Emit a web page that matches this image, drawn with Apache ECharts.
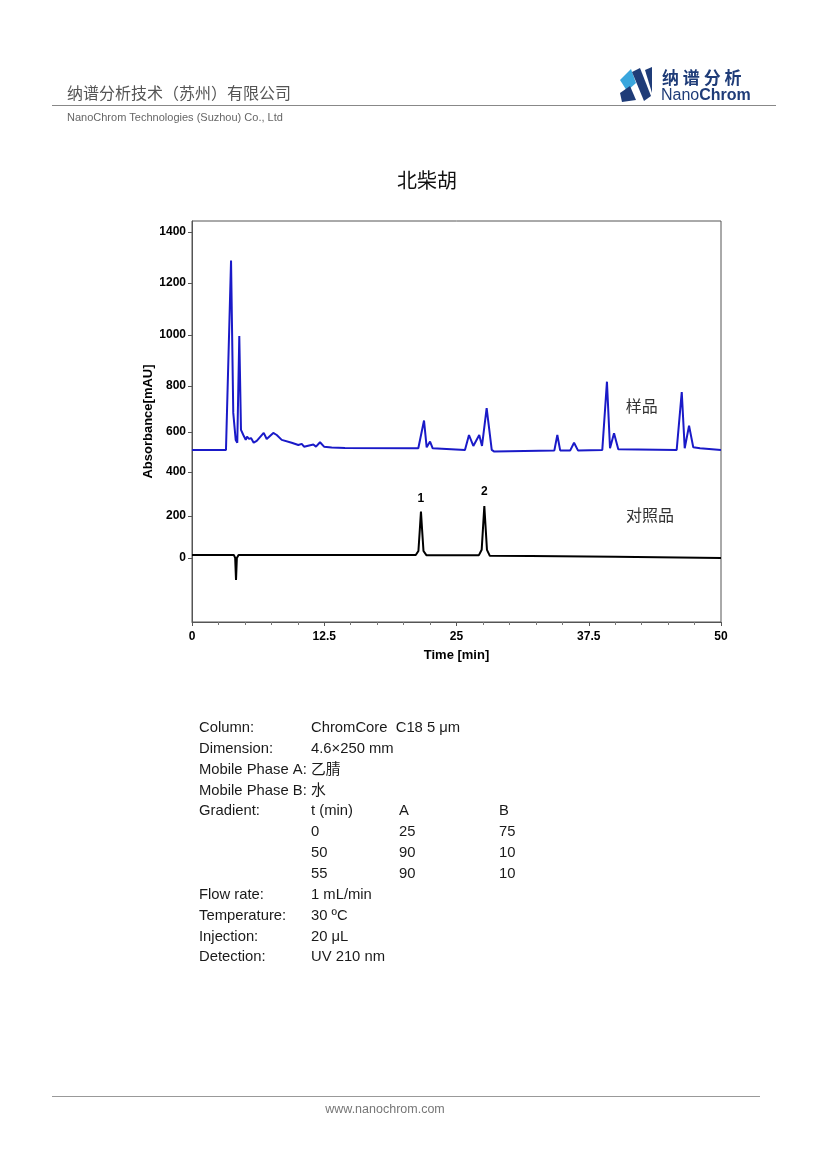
<!DOCTYPE html>
<html>
<head>
<meta charset="utf-8">
<script src="https://cdn.jsdelivr.net/npm/echarts@6/dist/echarts.min.js"></script>
<style>
html,body{margin:0;padding:0;background:#fff;}
#main{width:826px;height:1169px;}
</style>
</head>
<body>
<div id="main"></div>
<script>
// ---- data ----
const sampleTime = [0, 3.21, 3.69, 3.90, 4.13, 4.28, 4.47, 4.63, 4.85, 5.08, 5.20, 5.39, 5.58, 5.83, 6.12, 6.78, 7.06, 7.68, 8.01, 8.48, 9.42, 10.05, 10.37, 10.59, 11.47, 11.72, 12.10, 12.48, 13.20, 14.46, 21.39, 21.93, 22.18, 22.50, 22.75, 25.80, 26.18, 26.59, 27.15, 27.41, 27.85, 28.33, 28.57, 34.25, 34.53, 34.80, 35.75, 36.11, 36.48, 38.78, 39.22, 39.51, 39.89, 40.29, 45.81, 46.29, 46.57, 46.98, 47.38, 48.02, 50];
const sampleAbs  = [464, 464, 1277, 623, 507, 495, 953, 550, 528, 507, 521, 511, 515, 495, 503, 537, 511, 537, 528, 507, 495, 485, 490, 478, 487, 478, 497, 478, 474, 472, 471, 590, 475, 500, 471, 464, 528, 481, 528, 481, 643, 464, 457, 462, 528, 462, 462, 495, 462, 464, 757, 471, 536, 467, 464, 712, 471, 568, 475, 471, 464];

const refTime = [0, 3.95, 4.08, 4.16, 4.24, 4.40, 21.15, 21.40, 21.53, 21.64, 21.75, 21.88, 22.15, 27.12, 27.38, 27.52, 27.63, 27.74, 27.88, 28.15, 32, 40, 50];
const refAbs  = [13, 13, 0, -95, 0, 13, 13, 30, 120, 199, 120, 30, 12, 12, 35, 140, 223, 140, 35, 9, 8, 5, 0];

const peakNames = ['1', '2'];
const peakIndex = [9, 16];

const xTicks = [0, 12.5, 25, 37.5, 50];
const yTickLabels = ['1400', '1200', '1000', '800', '600', '400', '200', '0'];
const yTickValues = [1400, 1181, 958, 739, 541, 369, 180, 0];

const seriesNames = ['样品', '对照品'];

const tableLabels = ['Column:', 'Dimension:', 'Mobile Phase A:', 'Mobile Phase B:', 'Gradient:', '', '', '', 'Flow rate:', 'Temperature:', 'Injection:', 'Detection:'];
const tableValues = ['ChromCore  C18 5 μm', '4.6×250 mm', '乙腈', '水', 't (min)', '0', '50', '55', '1 mL/min', '30 ºC', '20 μL', 'UV 210 nm'];
const gradientA = ['', '', '', '', 'A', '25', '90', '90', '', '', '', ''];
const gradientB = ['', '', '', '', 'B', '75', '10', '10', '', '', '', ''];

// ---- build ----
const sampleData = sampleTime.map((t, i) => [t, sampleAbs[i]]);
const refData = refTime.map((t, i) => [t, refAbs[i]]);

const FONT = '"Liberation Sans", Arial, "Noto Sans CJK SC", sans-serif';
const CJK = '"Noto Sans CJK SC", sans-serif';

const graphics = [];
// header
graphics.push({type:'text', x:67, y:93, style:{text:'纳谱分析技术（苏州）有限公司', font:'16px ' + CJK, fill:'#555', textVerticalAlign:'middle'}});
graphics.push({type:'line', shape:{x1:52, y1:105.5, x2:776, y2:105.5}, style:{stroke:'#888', lineWidth:1}});
graphics.push({type:'text', x:67, y:118, style:{text:'NanoChrom Technologies (Suzhou) Co., Ltd', font:'11px ' + FONT, fill:'#666', textVerticalAlign:'middle'}});
// logo
graphics.push({type:'polygon', shape:{points:[[620,80],[631,69],[636,83],[627,91]]}, style:{fill:'#3aa6dd'}});
graphics.push({type:'polygon', shape:{points:[[632,72],[640,68],[651,96],[644,101]]}, style:{fill:'#1f3c78'}});
graphics.push({type:'polygon', shape:{points:[[645,70],[652,67],[652,93]]}, style:{fill:'#1f3c78'}});
graphics.push({type:'polygon', shape:{points:[[620,93],[630,86],[636,100],[622,102]]}, style:{fill:'#1f3c78'}});
graphics.push({type:'text', x:662, y:78, style:{text:'纳 谱 分 析', font:'bold 17px ' + CJK, fill:'#1f3c78', textVerticalAlign:'middle'}});
graphics.push({type:'text', x:661, y:96, style:{text:'{a|Nano}{b|Chrom}', rich:{a:{font:'16px ' + FONT, fill:'#1f3c78'}, b:{font:'bold 16px ' + FONT, fill:'#1f3c78'}}, textVerticalAlign:'middle'}});
// title
graphics.push({type:'text', x:427, y:180, style:{text:'北柴胡', font:'20px ' + CJK, fill:'#111', textAlign:'center', textVerticalAlign:'middle'}});
// table
const rowY0 = 728, rowH = 20.85;
const TF = '14.8px ' + FONT;
tableLabels.forEach((lab, i) => {
  const y = rowY0 + i * rowH;
  if (lab) graphics.push({type:'text', x:199, y:y, style:{text:lab, font:TF, fill:'#1a1a1a', textVerticalAlign:'middle'}});
  if (tableValues[i]) graphics.push({type:'text', x:311, y:y, style:{text:tableValues[i], font:TF, fill:'#1a1a1a', textVerticalAlign:'middle'}});
  if (gradientA[i]) graphics.push({type:'text', x:399, y:y, style:{text:gradientA[i], font:TF, fill:'#1a1a1a', textVerticalAlign:'middle'}});
  if (gradientB[i]) graphics.push({type:'text', x:499, y:y, style:{text:gradientB[i], font:TF, fill:'#1a1a1a', textVerticalAlign:'middle'}});
});
// footer
graphics.push({type:'line', shape:{x1:52, y1:1096.5, x2:760, y2:1096.5}, style:{stroke:'#999', lineWidth:1}});
graphics.push({type:'text', x:385, y:1110, style:{text:'www.nanochrom.com', font:'12.5px ' + FONT, fill:'#777', textAlign:'center', textVerticalAlign:'middle'}});

const chart = echarts.init(document.getElementById('main'), null, {renderer:'canvas'});
const option = {
  animation: false,
  backgroundColor: '#fff',
  grid: {left:192, top:221, width:529, height:401, show:true, borderColor:'#555', borderWidth:1, backgroundColor:'transparent'},
  xAxis: {
    type:'value', min:0, max:50, interval:12.5,
    name:'Time [min]', nameLocation:'middle', nameGap:27, nameMoveOverlap:false,
    nameTextStyle:{fontFamily:FONT, fontWeight:'bold', fontSize:13, color:'#000'},
    axisLine:{onZero:false, lineStyle:{color:'#555', width:1}},
    axisTick:{show:true, length:4, lineStyle:{color:'#555'}},
    minorTick:{show:true, splitNumber:5, length:3, lineStyle:{color:'#777'}},
    splitLine:{show:false},
    axisLabel:{color:'#000', fontWeight:'bold', fontSize:12, fontFamily:FONT, margin:9,
      formatter:(v) => xTicks.indexOf(v) >= 0 ? String(v) : ''}
  },
  yAxis: {
    type:'value', min:-275, max:1447,
    name:'Absorbance[mAU]', nameLocation:'middle', nameGap:37, nameRotate:90, nameMoveOverlap:false,
    nameTextStyle:{fontFamily:FONT, fontWeight:'bold', fontSize:13, color:'#000'},
    axisLine:{show:true, onZero:false, lineStyle:{color:'#555', width:1}},
    axisTick:{show:true, length:4, lineStyle:{color:'#555'}, customValues: yTickValues},
    splitLine:{show:false},
    axisLabel:{color:'#000', fontWeight:'bold', fontSize:12, fontFamily:FONT, margin:6,
      customValues: yTickValues,
      formatter:(v) => {
        let best = 0, d = Infinity;
        yTickValues.forEach((tv, i) => { if (Math.abs(tv - v) < d) { d = Math.abs(tv - v); best = i; } });
        return yTickLabels[best];
      }}
  },
  series: [
    {
      name: seriesNames[0], type:'line', data: sampleData, showSymbol:false, symbol:'none',
      lineStyle:{color:'#1a1ac8', width:2}, itemStyle:{color:'#1a1ac8'},
      markPoint:{symbol:'circle', symbolSize:1, itemStyle:{color:'rgba(0,0,0,0)'},
        label:{show:true, position:'inside', color:'#333', fontSize:16, fontFamily:CJK, formatter:(p)=>p.name},
        data:[{name:seriesNames[0], coord:[42.5, 653]}]}
    },
    {
      name: seriesNames[1], type:'line', data: refData, showSymbol:false, symbol:'none',
      lineStyle:{color:'#000', width:2}, itemStyle:{color:'#000'},
      markPoint:{symbol:'circle', symbolSize:1, itemStyle:{color:'rgba(0,0,0,0)'},
        label:{show:true, color:'#000', fontFamily:FONT, formatter:(p)=>p.name},
        data:[
          {name:seriesNames[1], coord:[43.3, 185], label:{position:'inside', color:'#333', fontSize:16, fontFamily:CJK}},
          {name:peakNames[0], coord:refData[peakIndex[0]], label:{position:'top', distance:6, fontWeight:'bold', fontSize:12}},
          {name:peakNames[1], coord:refData[peakIndex[1]], label:{position:'top', distance:8, fontWeight:'bold', fontSize:12}}
        ]}
    }
  ],
  graphic: graphics
};
chart.setOption(option);
</script>
</body>
</html>
